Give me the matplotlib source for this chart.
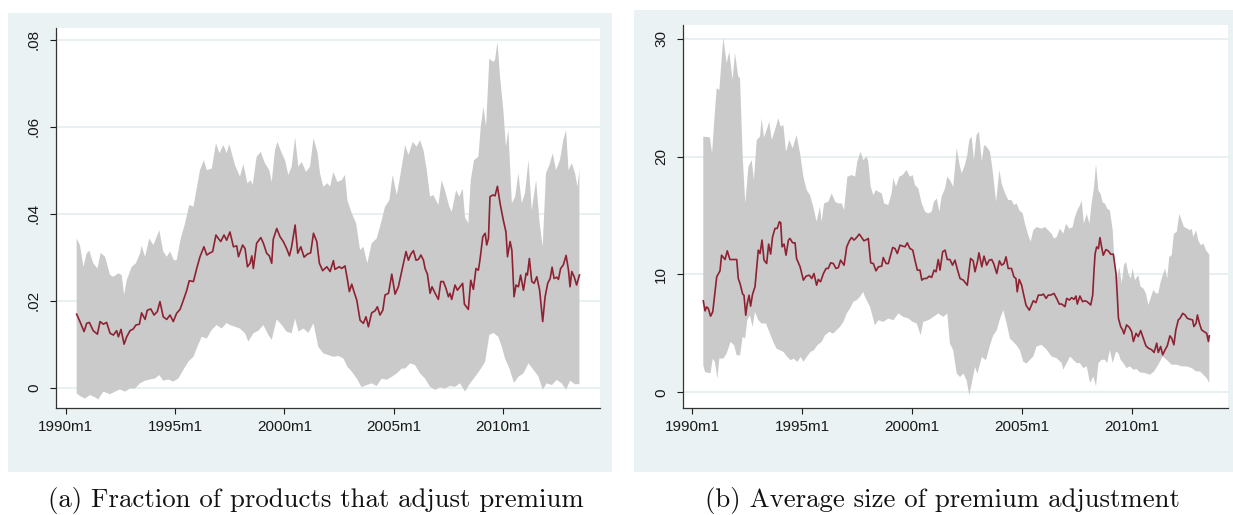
import matplotlib

matplotlib.use("Agg")
import matplotlib.pyplot as plt
import numpy as np
from matplotlib.patches import Rectangle

# ---------------------------------------------------------------------------
# Data: time in years since 1990m1, values read per series
# ---------------------------------------------------------------------------

# (a) fraction of products that adjust premium
t_mean_a = [
    0.50, 0.65, 0.84, 0.96, 1.08, 1.26, 1.45, 1.57, 1.72, 1.87, 2.03, 2.18, 2.33, 2.41,
    2.53, 2.67, 2.79, 2.94, 3.09, 3.21, 3.37, 3.47, 3.63, 3.73, 3.89, 4.04, 4.19, 4.31,
    4.46, 4.62, 4.77, 4.92, 5.07, 5.23, 5.38, 5.53, 5.65, 5.84, 5.99, 6.14, 6.32, 6.45,
    6.57, 6.72, 6.87, 6.98, 7.09, 7.24, 7.36, 7.51, 7.67, 7.82, 7.90, 8.09, 8.20, 8.31,
    8.43, 8.51, 8.58, 8.73, 8.92, 9.04, 9.19, 9.31, 9.42, 9.49, 9.65, 9.80, 9.95, 10.10,
    10.23, 10.33, 10.49, 10.61, 10.75, 10.90, 11.05, 11.20, 11.33, 11.48, 11.60, 11.75,
    11.94, 12.09, 12.24, 12.31, 12.51, 12.62, 12.77, 12.88, 12.97, 13.08, 13.18, 13.31,
    13.46, 13.61, 13.73, 13.84, 13.99, 14.15, 14.25, 14.37, 14.50, 14.60, 14.76, 14.91,
    15.06, 15.21, 15.44, 15.56, 15.67, 15.78, 15.90, 16.02, 16.13, 16.24, 16.36, 16.43,
    16.54, 16.66, 16.75, 16.89, 17.04, 17.15, 17.27, 17.39, 17.50, 17.57, 17.65, 17.80,
    17.91, 18.03, 18.15, 18.23, 18.41, 18.52, 18.64, 18.76, 18.87, 18.95, 19.07, 19.18,
    19.25, 19.33, 19.40, 19.53, 19.63, 19.74, 19.86, 20.01, 20.13, 20.20, 20.32, 20.40,
    20.50, 20.59, 20.70, 20.80, 20.93, 21.05, 21.11, 21.20, 21.31, 21.42, 21.54, 21.67,
    21.81, 21.92, 22.04, 22.15, 22.24, 22.33, 22.45, 22.53, 22.63, 22.75, 22.88, 22.99,
    23.06, 23.14, 23.25, 23.36, 23.49,
]
mean_a = [
    .0169, .0152, .0129, .0148, .0150, .0131, .0123, .0152, .0146, .0150, .0125, .0121, .0131, .0117,
    .0134, .0100, .0117, .0131, .0135, .0144, .0146, .0172, .0157, .0178, .0181, .0167, .0175, .0198,
    .0163, .0157, .0167, .0152, .0171, .0180, .0201, .0223, .0246, .0244, .0274, .0301, .0324, .0305,
    .0309, .0313, .0351, .0343, .0336, .0351, .0339, .0358, .0324, .0326, .0301, .0328, .0320, .0278,
    .0286, .0303, .0274, .0332, .0345, .0332, .0309, .0303, .0286, .0341, .0366, .0347, .0336, .0320,
    .0303, .0324, .0374, .0309, .0324, .0300, .0307, .0310, .0355, .0336, .0286, .0269,
    .0278, .0267, .0292, .0272, .0278, .0274, .0280, .0249, .0221, .0238, .0221, .0201,
    .0155, .0148, .0163, .0140, .0172, .0177, .0186, .0167, .0178, .0213, .0217, .0261,
    .0215, .0232, .0286, .0313, .0293, .0307, .0315, .0293, .0295, .0305, .0293, .0274,
    .0261, .0217, .0232, .0217, .0203, .0244, .0244, .0228, .0209, .0217, .0203, .0236,
    .0224, .0232, .0240, .0192, .0180, .0247, .0226, .0274, .0270, .0297, .0347, .0355,
    .0328, .0343, .0439, .0443, .0441, .0463, .0424, .0385, .0358, .0301, .0336, .0316,
    .0209, .0236, .0232, .0259, .0224, .0263, .0259, .0297, .0244, .0240, .0255, .0224,
    .0152, .0209, .0240, .0251, .0277, .0251, .0254, .0249, .0274, .0282, .0304, .0270,
    .0232, .0267, .0255, .0236, .0259,
]
t_upper_a = [
    0.50, 0.65, 0.81, 0.96, 1.08, 1.26, 1.45, 1.60, 1.80, 2.03, 2.18, 2.41, 2.56, 2.67,
    2.79, 3.02, 3.21, 3.40, 3.47, 3.63, 3.82, 4.01, 4.28, 4.46, 4.62, 4.77, 4.95, 5.07,
    5.26, 5.46, 5.65, 5.84, 6.02, 6.14, 6.32, 6.45, 6.68, 6.87, 7.03, 7.21, 7.36, 7.48,
    7.74, 7.97, 8.12, 8.31, 8.46, 8.55, 8.73, 8.92, 9.11, 9.31, 9.42, 9.57, 9.68, 9.88,
    10.03, 10.18, 10.33, 10.49, 10.64, 10.79, 10.99, 11.17, 11.33, 11.51, 11.63, 11.78,
    11.97, 12.09, 12.24, 12.42, 12.62, 12.77, 12.88, 13.08, 13.28, 13.46, 13.61, 13.79,
    13.99, 14.22, 14.45, 14.60, 14.80, 14.95, 15.14, 15.29, 15.44, 15.52, 15.67, 15.87,
    16.05, 16.20, 16.36, 16.51, 16.66, 16.81, 17.04, 17.19, 17.34, 17.54, 17.65, 17.85,
    18.00, 18.15, 18.26, 18.41, 18.52, 18.67, 18.87, 18.98, 19.10, 19.22, 19.37, 19.53,
    19.63, 19.74, 19.86, 20.01, 20.13, 20.24, 20.40, 20.55, 20.70, 20.85, 21.00, 21.16,
    21.31, 21.51, 21.67, 21.81, 21.96, 22.12, 22.27, 22.42, 22.60, 22.75, 22.88, 22.99,
    23.14, 23.29, 23.40, 23.49,
]
upper_a = [
    .0343, .0328, .0278, .0309, .0315, .0286, .0274, .0310, .0301, .0259, .0255, .0263, .0259, .0213,
    .0247, .0278, .0286, .0309, .0326, .0301, .0343, .0328, .0362, .0313, .0301, .0313, .0293, .0293,
    .0343, .0378, .0420, .0416, .0466, .0500, .0523, .0500, .0504, .0562, .0539, .0558, .0539, .0560,
    .0512, .0485, .0514, .0470, .0477, .0466, .0531, .0542, .0516, .0500, .0473, .0546, .0565, .0539,
    .0523, .0489, .0508, .0575, .0508, .0519, .0496, .0508, .0573, .0542, .0492, .0462,
    .0470, .0462, .0496, .0473, .0477, .0489, .0431, .0401, .0378, .0316, .0324, .0286,
    .0332, .0343, .0385, .0416, .0431, .0489, .0443, .0485, .0531, .0558, .0535, .0565,
    .0554, .0569, .0546, .0500, .0439, .0443, .0420, .0477, .0454, .0416, .0404, .0454,
    .0439, .0458, .0391, .0378, .0477, .0523, .0531, .0600, .0646, .0600, .0757, .0749,
    .0753, .0795, .0715, .0638, .0554, .0592, .0424, .0439, .0493, .0424, .0447, .0523,
    .0408, .0477, .0378, .0324, .0493, .0512, .0539, .0500, .0523, .0569, .0592, .0500,
    .0516, .0493, .0462, .0500,
]
t_lower_a = [
    0.50, 0.65, 0.88, 1.11, 1.34, 1.49, 1.72, 2.03, 2.26, 2.48, 2.71, 2.94, 3.17, 3.40,
    3.63, 3.86, 4.08, 4.28, 4.46, 4.69, 4.92, 5.15, 5.38, 5.61, 5.84, 6.02, 6.22, 6.45,
    6.68, 6.90, 7.13, 7.36, 7.51, 7.74, 7.97, 8.20, 8.35, 8.58, 8.81, 9.04, 9.27, 9.42,
    9.65, 9.88, 10.10, 10.33, 10.49, 10.64, 10.87, 11.10, 11.33, 11.55, 11.78, 12.01,
    12.24, 12.47, 12.70, 12.88, 13.08, 13.31, 13.53, 13.76, 13.99, 14.22, 14.45, 14.68,
    14.91, 15.14, 15.37, 15.52, 15.75, 15.97, 16.20, 16.43, 16.66, 16.89, 17.12, 17.34,
    17.57, 17.80, 18.03, 18.26, 18.49, 18.72, 18.95, 19.18, 19.37, 19.56, 19.78, 19.94,
    20.09, 20.29, 20.50, 20.70, 20.93, 21.16, 21.39, 21.62, 21.81, 21.99, 22.23, 22.45,
    22.68, 22.88, 23.06, 23.29, 23.49,
]
lower_a = [
    -.0013, -.0019, -.0025, -.0017, -.0022, -.0027, -.0009, -.0015, -.0009, -.0004, -.0009, -.0002, -.0002, .0010,
    .0016, .0019, .0021, .0029, .0016, .0019, .0014, .0021, .0041, .0060, .0071, .0094, .0117, .0113,
    .0133, .0144, .0136, .0149, .0144, .0140, .0136, .0125, .0106, .0125, .0131, .0144, .0121, .0110,
    .0157, .0144, .0129, .0125, .0159, .0129, .0136, .0126, .0148, .0094, .0079, .0075,
    .0071, .0073, .0067, .0048, .0037, .0021, .0001, .0006, .0010, .0004, .0021, .0018,
    .0025, .0033, .0044, .0044, .0056, .0052, .0033, .0021, .0002, -.0005, .0001, -.0002,
    .0004, .0002, .0010, -.0009, .0010, .0025, .0041, .0060, .0121, .0126, .0117, .0094,
    .0067, .0044, .0011, .0025, .0033, .0056, .0041, .0025, -.0005, .0010, .0006, .0018,
    .0010, -.0005, .0016, .0008, .0008,
]

# (b) average size of premium adjustment
t_mean_b = [
    0.50, 0.58, 0.65, 0.73, 0.83, 0.93, 1.11, 1.26, 1.33, 1.49, 1.59, 1.71, 1.86, 2.02,
    2.09, 2.17, 2.29, 2.35, 2.43, 2.50, 2.58, 2.65, 2.74, 2.85, 3.00, 3.08, 3.17, 3.26,
    3.38, 3.47, 3.56, 3.65, 3.76, 3.86, 3.96, 4.02, 4.08, 4.17, 4.26, 4.37, 4.44, 4.56,
    4.67, 4.74, 4.90, 5.05, 5.17, 5.32, 5.43, 5.53, 5.65, 5.73, 5.83, 5.96, 6.08, 6.18,
    6.29, 6.41, 6.53, 6.64, 6.74, 6.90, 7.02, 7.14, 7.24, 7.35, 7.47, 7.59, 7.70, 7.80,
    7.93, 8.00, 8.11, 8.23, 8.35, 8.46, 8.61, 8.68, 8.81, 8.91, 9.11, 9.21, 9.32, 9.44,
    9.56, 9.67, 9.77, 9.89, 10.02, 10.12, 10.23, 10.35, 10.43, 10.53, 10.65, 10.77,
    10.88, 10.99, 11.08, 11.18, 11.26, 11.38, 11.49, 11.59, 11.71, 11.83, 11.94, 12.05,
    12.17, 12.32, 12.44, 12.50, 12.65, 12.77, 12.85, 12.96, 13.03, 13.16, 13.26, 13.38,
    13.50, 13.61, 13.71, 13.84, 13.96, 14.06, 14.17, 14.26, 14.36, 14.51, 14.62, 14.71,
    14.77, 14.86, 14.97, 15.05, 15.17, 15.32, 15.50, 15.62, 15.73, 15.88, 15.96, 16.08,
    16.18, 16.29, 16.44, 16.56, 16.68, 16.79, 16.94, 17.02, 17.14, 17.24, 17.35, 17.44,
    17.50, 17.62, 17.74, 17.85, 17.95, 18.11, 18.20, 18.26, 18.31, 18.38, 18.46, 18.53,
    18.61, 18.68, 18.80, 18.91, 19.02, 19.14, 19.26, 19.32, 19.37, 19.47, 19.56, 19.62,
    19.74, 19.86, 19.97, 20.05, 20.17, 20.27, 20.38, 20.50, 20.62, 20.73, 20.88, 20.99,
    21.11, 21.18, 21.29, 21.38, 21.49, 21.59, 21.71, 21.79, 21.89, 21.98, 22.09, 22.17,
    22.29, 22.40, 22.50, 22.62, 22.74, 22.80, 22.90, 22.96, 23.05, 23.15, 23.26, 23.38,
    23.46, 23.50,
]
mean_b = [
    7.76, 6.91, 7.25, 7.11, 6.46, 6.83, 9.80, 10.31, 11.64, 11.27, 12.01, 11.27, 11.27, 11.27,
    9.66, 9.24, 8.33, 8.24, 6.54, 7.54, 8.24, 7.31, 8.33, 8.95, 12.07, 11.78, 12.92, 11.22,
    10.93, 12.58, 11.73, 13.20, 13.91, 13.91, 14.48, 14.39, 12.35, 12.58, 11.64, 12.92, 13.06, 12.69,
    12.69, 11.36, 10.65, 9.52, 9.86, 9.94, 9.66, 10.08, 9.09, 9.58, 9.38, 10.08, 10.51, 10.51,
    10.99, 10.93, 10.51, 10.59, 11.22, 10.79, 12.35, 12.86, 13.14, 12.92, 13.14, 13.43, 13.14, 12.86,
    12.97, 13.06, 10.99, 10.93, 10.31, 10.65, 10.71, 11.44, 10.93, 10.93, 12.29, 12.21, 11.78, 12.49,
    12.41, 12.35, 12.69, 12.21, 12.07, 11.22, 10.37, 10.37, 9.52, 9.66, 9.66, 9.86,
    9.75, 10.37, 10.23, 11.27, 10.37, 11.93, 12.07, 11.27, 11.27, 10.79, 11.22, 10.42,
    9.66, 9.52, 9.24, 9.09, 11.36, 11.16, 10.23, 11.08, 11.84, 10.65, 11.56, 10.79,
    11.22, 11.27, 10.88, 10.08, 11.16, 10.79, 10.93, 11.50, 10.51, 10.51, 9.80, 9.66,
    8.53, 9.58, 9.09, 8.39, 7.39, 6.97, 7.77, 7.61, 8.25, 8.25, 8.34, 7.97,
    8.25, 8.25, 8.39, 7.97, 7.49, 7.49, 7.27, 7.97, 7.83, 8.03, 7.89, 8.17,
    7.49, 8.17, 7.69, 7.77, 7.69, 7.41, 8.25, 10.37, 11.77, 12.34, 12.20, 13.13,
    12.28, 11.63, 12.11, 12.00, 11.72, 11.72, 10.08, 8.11, 6.28, 5.58, 5.30, 4.96,
    5.72, 5.52, 5.15, 4.31, 5.01, 4.73, 5.24, 4.59, 3.94, 3.75, 3.61, 3.38,
    4.17, 3.38, 3.89, 3.18, 3.61, 3.94, 4.79, 4.59, 4.03, 5.30, 6.14, 6.28,
    6.70, 6.56, 6.28, 6.20, 6.14, 5.58, 5.86, 6.56, 5.86, 5.30, 5.15, 5.01,
    4.31, 4.79,
]
t_upper_b = [
    0.50, 0.80, 0.90, 0.99, 1.11, 1.23, 1.41, 1.56, 1.68, 1.83, 1.94, 2.09, 2.17, 2.29,
    2.41, 2.55, 2.70, 2.80, 2.93, 3.08, 3.15, 3.26, 3.38, 3.50, 3.61, 3.76, 3.91, 4.02,
    4.14, 4.26, 4.41, 4.56, 4.74, 4.90, 5.05, 5.20, 5.35, 5.50, 5.65, 5.80, 5.88, 5.99,
    6.18, 6.34, 6.49, 6.64, 6.79, 6.90, 7.05, 7.24, 7.40, 7.50, 7.65, 7.77, 7.93, 8.00,
    8.11, 8.23, 8.35, 8.46, 8.61, 8.72, 8.91, 9.06, 9.14, 9.26, 9.41, 9.56, 9.74, 9.89,
    10.02, 10.12, 10.27, 10.43, 10.58, 10.73, 10.88, 10.99, 11.11, 11.23, 11.33, 11.49,
    11.59, 11.71, 11.86, 12.02, 12.14, 12.24, 12.39, 12.50, 12.59, 12.70, 12.80, 12.92,
    13.03, 13.16, 13.26, 13.38, 13.53, 13.65, 13.81, 13.96, 14.06, 14.19, 14.36, 14.51,
    14.62, 14.74, 14.86, 15.02, 15.12, 15.27, 15.38, 15.50, 15.65, 15.88, 16.03, 16.18,
    16.33, 16.44, 16.56, 16.71, 16.86, 16.99, 17.14, 17.29, 17.39, 17.50, 17.62, 17.70,
    17.80, 17.93, 18.05, 18.15, 18.26, 18.35, 18.46, 18.56, 18.65, 18.76, 18.86, 18.98,
    19.11, 19.21, 19.32, 19.41, 19.52, 19.62, 19.71, 19.82, 19.93, 20.02, 20.12, 20.27,
    20.38, 20.50, 20.62, 20.73, 20.83, 20.96, 21.08, 21.18, 21.29, 21.41, 21.49, 21.59,
    21.68, 21.79, 21.89, 22.02, 22.14, 22.24, 22.35, 22.50, 22.62, 22.70, 22.77, 22.90,
    23.00, 23.11, 23.23, 23.35, 23.46, 23.50,
]
upper_b = [
    21.70, 21.64, 20.28, 22.83, 25.81, 25.67, 30.14, 27.93, 28.92, 26.52, 28.78, 26.80, 26.66, 20.00,
    16.03, 19.15, 19.72, 18.02, 21.42, 21.70, 23.26, 21.64, 22.27, 22.97, 21.42, 22.27, 23.26, 22.55,
    22.69, 20.42, 21.42, 20.71, 21.84, 20.28, 18.30, 17.17, 16.74, 15.75, 14.48, 15.75, 14.48, 16.03,
    16.18, 16.88, 16.18, 16.03, 16.03, 15.47, 18.30, 18.44, 18.30, 19.58, 20.42, 19.72, 20.00, 19.58,
    17.45, 16.74, 17.17, 17.03, 16.88, 16.03, 15.89, 16.88, 18.16, 17.45, 18.30, 18.44, 18.87, 18.30,
    18.44, 17.59, 17.31, 16.03, 15.33, 15.18, 15.33, 16.18, 16.46, 15.33, 16.60, 17.31,
    18.30, 18.02, 17.45, 20.71, 19.43, 18.58, 19.29, 20.14, 21.42, 21.70, 19.72, 21.84,
    22.12, 19.58, 20.99, 20.85, 20.42, 18.87, 16.18, 18.87, 17.73, 17.03, 16.32, 16.32,
    15.89, 16.03, 15.47, 15.18, 14.33, 13.34, 12.78, 13.75, 14.03, 13.89, 14.03, 13.75,
    13.46, 13.04, 13.18, 13.89, 13.46, 14.31, 13.89, 14.03, 14.87, 15.44, 15.86, 16.28,
    14.31, 15.15, 14.31, 16.00, 17.41, 19.38, 17.13, 16.85, 16.14, 16.00, 15.58, 15.44,
    13.75, 10.37, 9.80, 10.65, 9.24, 10.79, 11.07, 10.08, 9.66, 10.51, 9.52, 9.94,
    8.96, 8.82, 8.39, 7.41, 7.97, 8.68, 8.39, 8.39, 9.38, 10.08, 10.51, 9.66,
    11.49, 11.63, 13.46, 13.61, 15.15, 14.59, 14.03, 13.89, 13.75, 13.89, 13.18, 13.75,
    12.90, 12.48, 12.62, 12.06, 11.77, 11.72,
]
t_lower_b = [
    0.50, 0.58, 0.73, 0.83, 0.93, 1.03, 1.14, 1.23, 1.41, 1.56, 1.74, 1.90, 2.02, 2.17,
    2.29, 2.40, 2.50, 2.62, 2.74, 2.85, 3.00, 3.15, 3.35, 3.53, 3.68, 3.83, 3.99, 4.14,
    4.32, 4.47, 4.62, 4.77, 4.93, 5.05, 5.20, 5.38, 5.53, 5.68, 5.88, 6.03, 6.23, 6.41,
    6.56, 6.71, 6.87, 7.02, 7.17, 7.32, 7.47, 7.62, 7.77, 7.85, 8.08, 8.30, 8.46, 8.68,
    8.91, 9.14, 9.37, 9.59, 9.82, 10.02, 10.20, 10.38, 10.50, 10.73, 10.96, 11.18,
    11.41, 11.59, 11.71, 11.86, 12.02, 12.17, 12.32, 12.47, 12.59, 12.70, 12.85, 12.96,
    13.16, 13.35, 13.53, 13.68, 13.84, 13.99, 14.14, 14.29, 14.44, 14.59, 14.74, 14.89,
    15.05, 15.20, 15.35, 15.50, 15.65, 15.88, 16.11, 16.33, 16.56, 16.79, 16.86, 17.02,
    17.17, 17.32, 17.47, 17.62, 17.77, 17.93, 18.08, 18.23, 18.35, 18.46, 18.61, 18.76,
    18.86, 18.98, 19.11, 19.26, 19.37, 19.47, 19.59, 19.74, 19.89, 20.05, 20.20, 20.35,
    20.58, 20.80, 20.99, 21.18, 21.38, 21.56, 21.79, 22.02, 22.24, 22.47, 22.70, 22.90,
    23.08, 23.23, 23.38, 23.50,
]
lower_b = [
    2.29, 1.73, 1.64, 1.64, 2.86, 2.58, 1.16, 2.86, 2.86, 3.29, 4.28, 3.99, 3.14, 3.14,
    4.70, 4.56, 6.12, 6.54, 5.55, 6.83, 6.12, 5.84, 5.84, 4.99, 4.28, 3.71, 3.57, 3.43,
    3.00, 2.72, 2.86, 2.58, 3.00, 2.58, 3.00, 3.43, 3.57, 3.99, 4.28, 4.84, 5.13, 4.99,
    5.27, 5.55, 5.98, 6.69, 7.11, 7.68, 7.82, 8.10, 8.53, 8.10, 7.25, 5.69, 6.12, 5.98,
    6.26, 6.12, 6.69, 6.40, 6.26, 5.98, 5.84, 4.84, 5.98, 6.12, 6.40, 6.69,
    6.40, 6.69, 4.14, 3.57, 1.59, 1.30, 1.59, 1.02, -0.25, 0.74, 2.15, 1.59,
    3.00, 2.72, 3.99, 4.84, 5.27, 6.26, 6.97, 5.84, 4.56, 4.28, 3.99, 3.57,
    2.58, 2.44, 2.76, 3.04, 3.89, 4.03, 3.61, 3.04, 2.90, 2.48, 1.92, 2.48,
    3.04, 2.76, 2.48, 2.48, 2.06, 2.20, 0.79, 1.35, 0.51, 2.48, 2.76, 2.76,
    2.48, 3.61, 2.48, 3.46, 3.32, 2.76, 2.48, 2.06, 2.20, 1.92, 1.97, 1.69,
    1.63, 1.49, 1.77, 2.34, 3.04, 2.76, 2.34, 2.34, 2.20, 2.20, 2.06, 1.77,
    1.77, 1.49, 1.21, 0.79,
]

x_ticks = [1990, 1995, 2000, 2005, 2010]
x_tick_labels = ["1990m1", "1995m1", "2000m1", "2005m1", "2010m1"]
y_ticks_a = [0, 0.02, 0.04, 0.06, 0.08]
y_tick_labels_a = ["0", ".02", ".04", ".06", ".08"]
y_ticks_b = [0, 10, 20, 30]
y_tick_labels_b = ["0", "10", "20", "30"]
caption_a = "(a) Fraction of products that adjust premium"
caption_b = "(b) Average size of premium adjustment"

# ---------------------------------------------------------------------------
# Styling
# ---------------------------------------------------------------------------

BG = "#eaf2f3"
BAND = "#cacaca"
LINE = "#8e2232"
GRID = "#e6eff1"
W, H = 1233, 515

plt.rcParams["font.family"] = ["Liberation Sans", "DejaVu Sans"]


def _frac(x0, y0, x1, y1):
    """Pixel box (top-left origin) -> figure fraction rect."""
    return [x0 / W, (H - y1) / H, (x1 - x0) / W, (y1 - y0) / H]


def draw_panel(fig, bg_box, ax_box, t_mid, mid, t_hi, hi, t_lo, lo,
               xlim, ylim, yticks, ylabels, caption, cap_x):
    fig.patches.append(
        Rectangle(_frac(*bg_box)[:2], *_frac(*bg_box)[2:], transform=fig.transFigure,
                  facecolor=BG, edgecolor="none", zorder=-1)
    )
    ax = fig.add_axes(_frac(*ax_box))
    ax.set_facecolor("white")

    # shaded band: upper edge left-to-right, lower edge back again
    band_x = np.concatenate([1990 + np.asarray(t_hi), 1990 + np.asarray(t_lo)[::-1]])
    band_y = np.concatenate([np.asarray(hi), np.asarray(lo)[::-1]])
    ax.fill(band_x, band_y, color=BAND, lw=0, zorder=2)
    ax.plot(1990 + np.asarray(t_mid), mid, color=LINE, lw=1.2, zorder=3)

    ax.set_xlim(*xlim)
    ax.set_ylim(*ylim)
    ax.set_xticks(x_ticks)
    ax.set_xticklabels(x_tick_labels)
    ax.set_yticks(yticks)
    ax.set_yticklabels(ylabels, rotation=90)
    for lbl in ax.get_yticklabels():
        lbl.set_rotation_mode("anchor")
        lbl.set_ha("center")
        lbl.set_va("bottom")
    ax.yaxis.grid(True, color=GRID, lw=1.3, zorder=1)
    ax.set_axisbelow(True)
    ax.tick_params(axis="both", direction="out", length=4.5, width=0.8,
                   labelsize=11, colors="#1a1a1a")
    ax.tick_params(axis="y", pad=6)
    ax.tick_params(axis="x", pad=4)
    for side in ("top", "right"):
        ax.spines[side].set_visible(False)
    for side in ("left", "bottom"):
        ax.spines[side].set_color("#333333")
        ax.spines[side].set_linewidth(0.9)

    fig.text(cap_x / W, (H - 500) / H, caption, family="cmr10", fontsize=19.3,
             ha="center", va="center", color="#111111")
    return ax


fig = plt.figure(figsize=(W / 100, H / 100), dpi=100)
fig.patch.set_facecolor("white")

draw_panel(fig, (8, 13, 612, 472), (55.7, 28, 600, 408.3),
           t_mean_a, mean_a, t_upper_a, upper_a, t_lower_a, lower_a,
           (1989.543, 2014.43), (-0.00474, 0.08269),
           y_ticks_a, y_tick_labels_a, caption_a, 316)
draw_panel(fig, (634, 10, 1233, 472), (682.7, 25, 1228, 408.3),
           t_mean_b, mean_b, t_upper_b, upper_b, t_lower_b, lower_b,
           (1989.564, 2014.35), (-1.36, 31.18),
           y_ticks_b, y_tick_labels_b, caption_b, 942)

fig.savefig("out.png", dpi=100)
